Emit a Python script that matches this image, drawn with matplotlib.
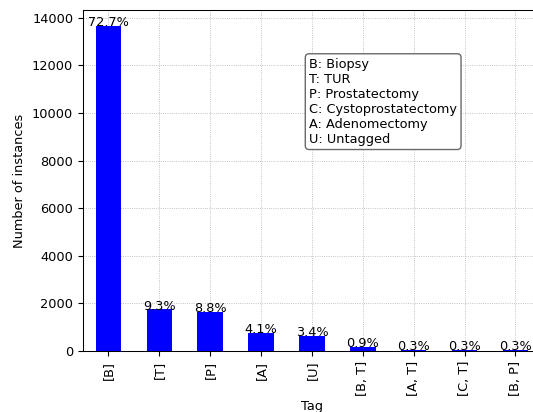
import matplotlib
matplotlib.use("Agg")
import matplotlib.pyplot as plt

# datos
tags = ["[B]", "[T]", "[P]", "[A]", "[U]", "[B, T]", "[A, T]", "[C, T]", "[B, P]"]
counts = [13650, 1746, 1652, 770, 638, 169, 56, 56, 56]
percent = ["72.7%", "9.3%", "8.8%", "4.1%", "3.4%", "0.9%", "0.3%", "0.3%", "0.3%"]
legend_text = "B: Biopsy\nT: TUR\nP: Prostatectomy\nC: Cystoprostatectomy\nA: Adenomectomy\nU: Untagged"

plt.rcParams["font.size"] = 9.3
plt.rcParams["axes.linewidth"] = 0.75

fig = plt.figure(figsize=(5.33, 4.12), dpi=100)
ax = fig.add_axes([0.1557, 0.148, 0.859, 0.828])

x = list(range(len(tags)))
ax.bar(x, counts, width=0.5, color="blue", zorder=2)
ax.set_xlim(-0.5, 8.5)
ax.set_xticks(x)
ax.set_xticklabels(tags, rotation=90)
ax.set_xlabel("Tag", labelpad=3)
ax.set_ylabel("Number of instances")
ax.grid(True, linestyle=":", color="#b0b0b0", linewidth=0.6, zorder=0)

for i in x:
    ax.annotate(percent[i], (i, counts[i]), xytext=(0, -2.2), textcoords="offset points",
                ha="center", va="bottom", zorder=3)

ax.text(0.494, 0.86, legend_text, transform=ax.transAxes, ha="left", va="top",
        bbox=dict(boxstyle="round", facecolor="white", edgecolor="dimgray"))

fig.savefig("out.png", dpi=100)
